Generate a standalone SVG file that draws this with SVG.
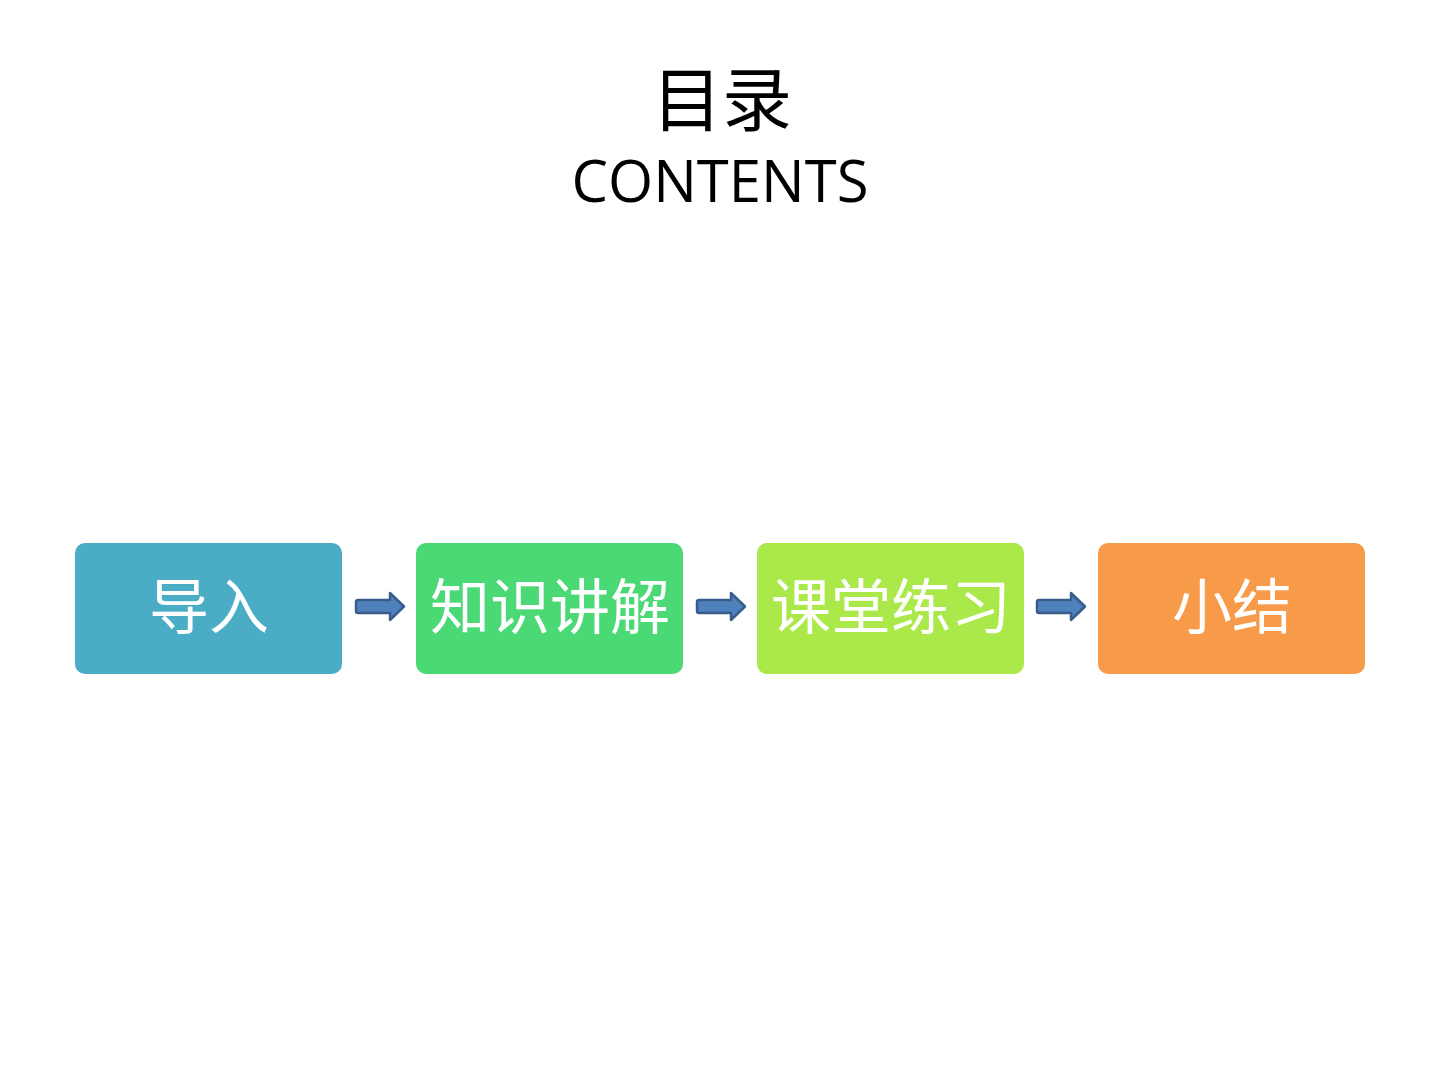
<svg xmlns="http://www.w3.org/2000/svg" width="1440" height="1080" viewBox="0 0 1440 1080">
<defs>
<style>
.title{font-family:"Noto Sans CJK SC","Open Sans",sans-serif;fill:#000;text-anchor:middle}
.sub{font-family:"Open Sans","Liberation Sans",sans-serif;fill:#000;text-anchor:middle}
.lbl{font-family:"Noto Sans CJK SC",sans-serif;font-size:60px;fill:#fff;text-anchor:middle}
.arrow{fill:#4F81BD;stroke:#385D8A;stroke-width:2.5;stroke-linejoin:round}
</style>
</defs>
<rect width="1440" height="1080" fill="#fff"/>
<text class="title" x="722" y="126" font-size="70">目录</text>
<text class="sub" x="720" y="202" font-size="58">CONTENTS</text>
<g id="connectors">
<path class="arrow" d="M358,600 H390 V593 L404,606.5 L390,620 V613 H358 Q356,613 356,611 V602 Q356,600 358,600 Z"/>
<path class="arrow" d="M699,600 H731 V593 L745,606.5 L731,620 V613 H699 Q697,613 697,611 V602 Q697,600 699,600 Z"/>
<path class="arrow" d="M1039,600 H1071 V593 L1085,606.5 L1071,620 V613 H1039 Q1037,613 1037,611 V602 Q1037,600 1039,600 Z"/>
</g>
<g id="node1"><rect x="75" y="543" width="267" height="131" rx="10" fill="#4BACC6"/><text class="lbl" x="209" y="629">导入</text></g>
<g id="node2"><rect x="416" y="543" width="267" height="131" rx="10" fill="#4BD976"/><text class="lbl" x="550" y="629">知识讲解</text></g>
<g id="node3"><rect x="757" y="543" width="267" height="131" rx="10" fill="#ABE94A"/><text class="lbl" x="891" y="629">课堂练习</text></g>
<g id="node4"><rect x="1098" y="543" width="267" height="131" rx="10" fill="#F79A4A"/><text class="lbl" x="1232" y="629">小结</text></g>
</svg>
